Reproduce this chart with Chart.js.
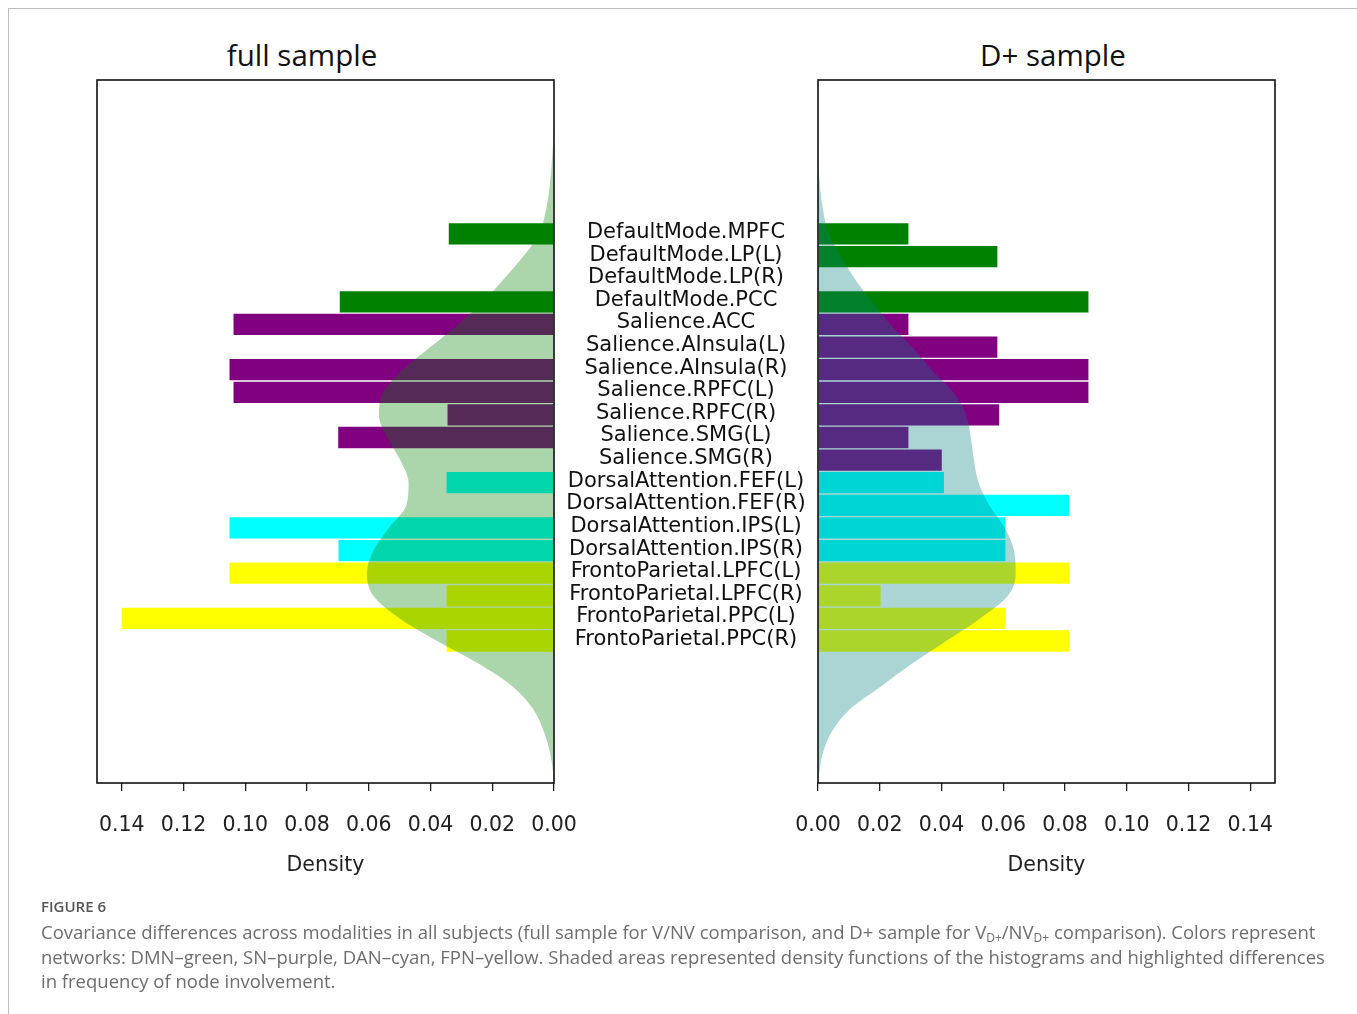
<!DOCTYPE html>
<html>
<head>
<meta charset="utf-8">
<title>Covariance differences across modalities</title>
<script src="https://cdn.jsdelivr.net/npm/chart.js@4.4.1/dist/chart.umd.min.js"></script>
<style>
  html, body { margin: 0; padding: 0; background: #fff; width: 1357px; height: 1014px; overflow: hidden; }
  #sheet { position: absolute; left: 8px; top: 8px; width: 1400px; height: 1100px;
           border-left: 1px solid #bdbdbd; border-top: 1px solid #bdbdbd; }
  .ptitle { position: absolute; top: 36px; font: 29.5px "Open Sans", sans-serif; color: #111;
            transform: translateX(-50%); white-space: nowrap; line-height: 38px; }
  canvas { position: absolute; top: 0; }
  #cap { position: absolute; left: 41px; top: 896px; font-family: "Open Sans", sans-serif; }
  #fig { font-size: 15px; font-weight: 600; color: #555; line-height: 20px; }
  #txt { font-size: 18.5px; color: #6e6e6e; line-height: 24.5px; margin-top: 4px; white-space: nowrap; }
  #txt sub { font-size: 12px; vertical-align: -3px; line-height: 0; }
</style>
</head>
<body>
<div id="sheet"></div>
<div class="ptitle" style="left:302px">full sample</div>
<div class="ptitle" style="left:1053px">D+ sample</div>
<canvas id="left" width="818" height="900" style="left:0"></canvas>
<canvas id="right" width="597" height="900" style="left:760px"></canvas>
<div id="cap">
  <div id="fig">FIGURE 6</div>
  <div id="txt">Covariance differences across modalities in all subjects (full sample for V/NV comparison, and D+ sample for V<sub>D+</sub>/NV<sub>D+</sub> comparison). Colors represent<br>networks: DMN–green, SN–purple, DAN–cyan, FPN–yellow. Shaded areas represented density functions of the histograms and highlighted differences<br>in frequency of node involvement.</div>
</div>
<script>
// Brain network nodes, top to bottom
const categories = [
  'DefaultMode.MPFC', 'DefaultMode.LP(L)', 'DefaultMode.LP(R)', 'DefaultMode.PCC',
  'Salience.ACC', 'Salience.AInsula(L)', 'Salience.AInsula(R)', 'Salience.RPFC(L)',
  'Salience.RPFC(R)', 'Salience.SMG(L)', 'Salience.SMG(R)',
  'DorsalAttention.FEF(L)', 'DorsalAttention.FEF(R)', 'DorsalAttention.IPS(L)', 'DorsalAttention.IPS(R)',
  'FrontoParietal.LPFC(L)', 'FrontoParietal.LPFC(R)', 'FrontoParietal.PPC(L)', 'FrontoParietal.PPC(R)'
];
const networks = ['DMN', 'DMN', 'DMN', 'DMN', 'SN', 'SN', 'SN', 'SN', 'SN', 'SN', 'SN',
                  'DAN', 'DAN', 'DAN', 'DAN', 'FPN', 'FPN', 'FPN', 'FPN'];

// Histogram heights (density) per node
const fullSample  = [0.0343, 0, 0, 0.0696, 0.1040, 0, 0.1053, 0.1040, 0.0347, 0.0701, 0,
                     0.0350, 0, 0.1053, 0.0700, 0.1053, 0.0350, 0.1402, 0.0350];
const dplusSample = [0.0295, 0.0583, 0, 0.0878, 0.0295, 0.0583, 0.0878, 0.0878, 0.0589, 0.0295, 0.0403,
                     0.0410, 0.0815, 0.0609, 0.0609, 0.0815, 0.0205, 0.0609, 0.0815];

// Kernel density estimates sampled along the node rows
const densityRows  = [-5, -4, -3, -2, -1, 0, 1, 2, 3, 4, 5, 6, 7, 8, 9, 10, 11, 12, 13, 14, 15,
                      16, 17, 18, 19, 20, 21, 22, 23, 24, 25];
const densityFull  = [0, 0.0003, 0.0008, 0.0015, 0.0027, 0.0048, 0.0100, 0.0163, 0.0230, 0.0310, 0.0400,
                      0.0490, 0.0553, 0.0567, 0.0540, 0.0498, 0.0471, 0.0478, 0.0535, 0.0585, 0.0606,
                      0.0585, 0.0500, 0.0378, 0.0245, 0.0135, 0.0068, 0.0033, 0.0012, 0.0002, 0];
const densityDplus = [0, 0, 0.0002, 0.0007, 0.0017, 0.0035, 0.0075, 0.0120, 0.0175, 0.0235, 0.0305,
                      0.0368, 0.0438, 0.0480, 0.0495, 0.0505, 0.0520, 0.0555, 0.0605, 0.0635, 0.0640,
                      0.0615, 0.0525, 0.0415, 0.0305, 0.0205, 0.0105, 0.0045, 0.0015, 0.0003, 0];

const densityTicks = [0, 0.02, 0.04, 0.06, 0.08, 0.10, 0.12, 0.14];

const networkColors = { DMN: '#008000', SN: '#800080', DAN: '#00ffff', FPN: '#ffff00' };

Chart.defaults.font.family = '"DejaVu Sans", sans-serif';
Chart.defaults.color = '#222';

const GAP = 264;          // room between the two panels for the node names
const LABEL_FONT = 21;

// centre the node names in the gap between the panels
const measure = document.createElement('canvas').getContext('2d');
measure.font = LABEL_FONT + 'px "DejaVu Sans"';
const widestLabel = Math.max(...categories.map(c => measure.measureText(c).width));

const framePlugin = {
  id: 'frame',
  afterDatasetsDraw(chart) {
    const { ctx, chartArea: a } = chart;
    ctx.save();
    ctx.strokeStyle = '#111';
    ctx.lineWidth = 1.6;
    ctx.strokeRect(a.left, a.top, a.right - a.left, a.bottom - a.top);
    ctx.restore();
  }
};

function barData(values) {
  return values.map((v, i) => ({ x: v, y: i }));
}
function densityData(values) {
  return densityRows.map((r, i) => ({ x: values[i], y: r }));
}

function densityAxis(reverse) {
  return {
    type: 'linear',
    position: 'bottom',
    reverse: reverse,
    min: 0,
    max: 0.148,
    afterFit: s => { s.height = 117; },
    afterBuildTicks: s => { s.ticks = densityTicks.map(v => ({ value: v })); },
    ticks: {
      padding: 22,
      font: { size: 20.5 },
      color: '#222',
      callback: v => Number(v).toFixed(2)
    },
    grid: { drawOnChartArea: false, drawTicks: true, tickLength: 8, color: '#222', lineWidth: 1.3 },
    border: { display: false },
    title: {
      display: true,
      text: 'Density',
      font: { size: 20.5 },
      color: '#222',
      padding: { top: 4, bottom: 22 }
    }
  };
}

function rowAxis(showLabels) {
  return {
    type: 'linear',
    position: 'right',
    reverse: true,
    offset: false,
    min: -6.81,
    max: 24.28,
    display: showLabels,
    afterFit: s => { if (showLabels) s.width = GAP; },
    afterBuildTicks: s => { s.ticks = categories.map((_, i) => ({ value: i })); },
    ticks: {
      autoSkip: false,
      crossAlign: 'center',
      padding: (GAP - widestLabel) / 2,
      labelOffset: -1.5,
      font: { size: LABEL_FONT },
      color: '#111',
      callback: v => categories[v]
    },
    grid: { display: false, drawTicks: false, offset: false },
    border: { display: false }
  };
}

function makePanel(id, values, density, fillColor, reverse, padding) {
  return new Chart(document.getElementById(id), {
    type: 'bar',
    data: {
      datasets: [
        {
          type: 'line',
          indexAxis: 'y',
          data: densityData(density),
          fill: 'origin',
          backgroundColor: fillColor,
          borderWidth: 0,
          pointRadius: 0,
          cubicInterpolationMode: 'monotone',
          order: 0
        },
        {
          type: 'bar',
          data: barData(values),
          backgroundColor: ctx => networkColors[networks[ctx.dataIndex]],
          borderColor: 'rgba(255,255,255,0.55)',
          borderWidth: 1,
          categoryPercentage: 1,
          barPercentage: 1,
          order: 1
        }
      ]
    },
    options: {
      indexAxis: 'y',
      responsive: false,
      animation: false,
      layout: { padding: padding },
      plugins: { legend: { display: false }, tooltip: { enabled: false }, title: { display: false } },
      scales: {
        x: densityAxis(reverse),
        y: rowAxis(reverse)
      }
    },
    plugins: [framePlugin]
  });
}

makePanel('left', fullSample, densityFull, 'rgba(0,128,0,0.33)', true,
          { left: 97, top: 80, right: 0, bottom: 0 });
makePanel('right', dplusSample, densityDplus, 'rgba(0,128,128,0.33)', false,
          { left: 58, top: 80, right: 82, bottom: 0 });
</script>
</body>
</html>
